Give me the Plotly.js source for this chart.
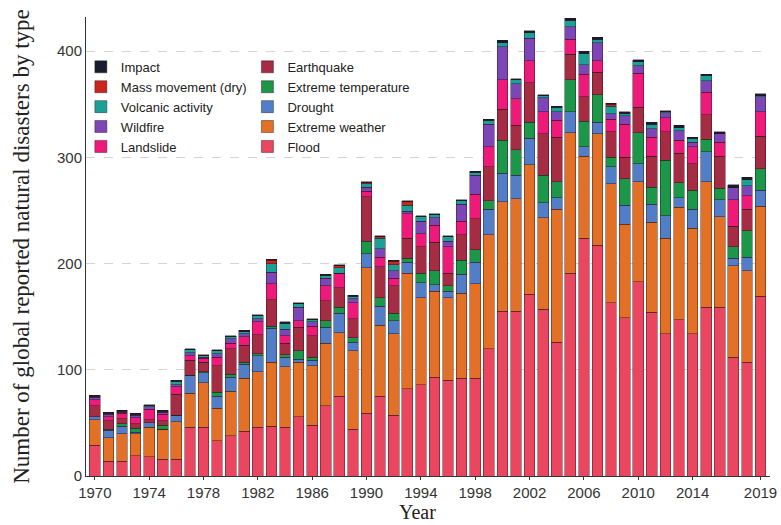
<!DOCTYPE html>
<html>
<head>
<meta charset="utf-8">
<script src="https://cdn.plot.ly/plotly-3.0.1.min.js"></script>
<style>html,body{margin:0;padding:0;background:#fff;}#chart{width:781px;height:525px;}</style>
</head>
<body>
<div id="chart"></div>
<script>
const years = [1970,1971,1972,1973,1974,1975,1976,1977,1978,1979,
  1980,1981,1982,1983,1984,1985,1986,1987,1988,1989,
  1990,1991,1992,1993,1994,1995,1996,1997,1998,1999,
  2000,2001,2002,2003,2004,2005,2006,2007,2008,2009,
  2010,2011,2012,2013,2014,2015,2016,2017,2018,2019];

const flood = [29,14,14,19,18,16,16,46,46,33, 38,42,46,47,46,56,48,66,75,44, 59,75,57,82,86,93,90,92,92,120, 155,155,171,157,126,191,224,217,163,149, 183,154,134,147,134,159,159,112,107,169];
const extremeWeather = [24,22,26,21,28,28,35,32,42,31, 42,50,52,60,57,51,56,59,60,74, 137,67,77,109,82,81,78,80,89,107, 103,106,122,86,125,132,77,105,112,88, 94,85,90,106,99,118,85,86,86,85];
const drought = [3,7,7,1,4,0,6,17,9,11, 13,13,15,32,9,3,5,15,18,8, 13,18,12,10,14,6,6,18,20,24, 27,22,25,14,11,20,9,11,16,18, 17,17,21,9,18,28,16,7,13,15];
const extremeTemperature = [0,1,2,4,0,4,0,0,1,4, 3,2,2,2,2,8,3,6,6,4, 12,8,7,4,9,13,5,13,12,8, 31,24,15,26,15,30,24,26,9,25, 29,16,52,14,18,12,11,11,25,20];
const earthquake = [10,8,5,4,3,4,20,14,9,25, 24,16,18,25,11,22,20,19,18,18, 42,29,26,19,25,27,12,24,29,32, 29,23,37,39,42,24,23,21,24,20, 24,29,27,28,25,23,30,19,20,31];
const landslide = [6,4,5,6,10,6,7,4,4,8, 5,8,12,15,7,6,9,14,14,15, 5,9,7,23,12,16,25,13,23,19, 28,25,21,21,16,14,21,11,12,31, 32,18,13,12,16,21,13,25,13,23];
const wildfire = [2,2,1,2,2,2,2,3,1,3, 4,3,3,11,6,13,4,7,0,4, 4,8,7,2,12,7,5,16,18,21, 31,14,21,13,8,12,9,17,5,8, 7,8,5,9,4,11,8,12,9,14];
const volcanicActivity = [1,1,1,1,1,1,3,3,1,3, 2,2,3,8,6,3,2,3,5,2, 3,10,6,6,4,3,4,3,3,4, 4,4,5,2,4,6,11,3,7,2, 4,4,1,3,4,5,0,0,6,1];
const massMovementDry = [0,0,0,0,0,0,0,0,0,0, 0,0,0,3,0,0,0,0,2,0, 1,1,3,3,0,0,0,0,0,0, 0,0,0,0,0,0,0,0,2,0, 0,0,0,0,0,0,0,0,0,0];
const impact = [1,1,1,1,1,1,1,1,1,1, 1,1,1,1,1,1,1,1,1,1, 1,1,1,1,1,1,1,1,1,1, 2,1,2,1,1,2,2,2,1,2, 2,2,1,2,1,1,2,2,2,2];

const xTickVals = [1970,1974,1978,1982,1986,1990,1994,1998,2002,2006,2010,2014,2019];
const yTickVals = [0,100,200,300,400];

// stacking order bottom -> top
const series = [
  {name:'Flood', y:flood, color:'rgb(234,70,96)', legend:'legend2', rank:5},
  {name:'Extreme weather', y:extremeWeather, color:'rgb(226,112,38)', legend:'legend2', rank:4},
  {name:'Drought', y:drought, color:'rgb(82,126,200)', legend:'legend2', rank:3},
  {name:'Extreme temperature', y:extremeTemperature, color:'rgb(28,150,72)', legend:'legend2', rank:2},
  {name:'Earthquake', y:earthquake, color:'rgb(165,44,66)', legend:'legend2', rank:1},
  {name:'Landslide', y:landslide, color:'rgb(238,26,122)', legend:'legend', rank:5},
  {name:'Wildfire', y:wildfire, color:'rgb(124,70,182)', legend:'legend', rank:4},
  {name:'Volcanic activity', y:volcanicActivity, color:'rgb(28,160,150)', legend:'legend', rank:3},
  {name:'Mass movement (dry)', y:massMovementDry, color:'rgb(200,38,30)', legend:'legend', rank:2},
  {name:'Impact', y:impact, color:'rgb(24,28,48)', legend:'legend', rank:1}
];

const traces = series.map(s => ({
  type:'bar', x:years, y:s.y, name:s.name, legend:s.legend, legendrank:s.rank,
  marker:{color:s.color, line:{color:'rgba(40,20,25,0.55)', width:0.8}},
  hoverinfo:'x+y+name'
}));

const legendFont = {family:'Liberation Sans, Arial, sans-serif', size:13, color:'#222'};
const titleFont = {family:'Liberation Serif, Times New Roman, serif', size:23, color:'#222'};

const layout = {
  width:781, height:525,
  margin:{l:86, r:11, t:17, b:49, autoexpand:false},
  paper_bgcolor:'#fff', plot_bgcolor:'#fff',
  barmode:'stack', bargap:0.21,
  showlegend:true,
  legend:{x:-0.0075, y:0.924, xanchor:'left', yanchor:'top', bgcolor:'rgba(0,0,0,0)', font:legendFont, traceorder:'normal', tracegroupgap:0},
  legend2:{x:0.236, y:0.924, xanchor:'left', yanchor:'top', bgcolor:'rgba(0,0,0,0)', font:legendFont, traceorder:'normal', tracegroupgap:0},
  xaxis:{
    range:[1969.35, 2019.7], tickmode:'array', tickvals:xTickVals, ticktext:xTickVals.map(String),
    ticks:'outside', ticklen:3, tickcolor:'#333', showline:true, linecolor:'#333', linewidth:1,
    showgrid:false, zeroline:false,
    tickfont:{family:'Liberation Sans, Arial, sans-serif', size:15, color:'#333'}
  },
  yaxis:{
    range:[0, 432], tickmode:'array', tickvals:yTickVals,
    ticks:'', showline:true, linecolor:'#333', linewidth:1,
    showgrid:true, gridcolor:'#d4d4d4', griddash:'dash', gridwidth:1, zeroline:false,
    tickfont:{family:'Liberation Sans, Arial, sans-serif', size:15, color:'#333'},
    title:{text:'Number of global reported natural disasters by type', font:titleFont, standoff:20}
  },
  annotations:[{
    text:'Year', xref:'paper', yref:'paper', x:0.485, y:-0.0795, xanchor:'center', yanchor:'middle',
    showarrow:false, borderpad:0, font:{family:'Liberation Serif, Times New Roman, serif', size:20, color:'#222'}
  }]
};

Plotly.newPlot('chart', traces, layout, {displayModeBar:false, staticPlot:true});
</script>
</body>
</html>
